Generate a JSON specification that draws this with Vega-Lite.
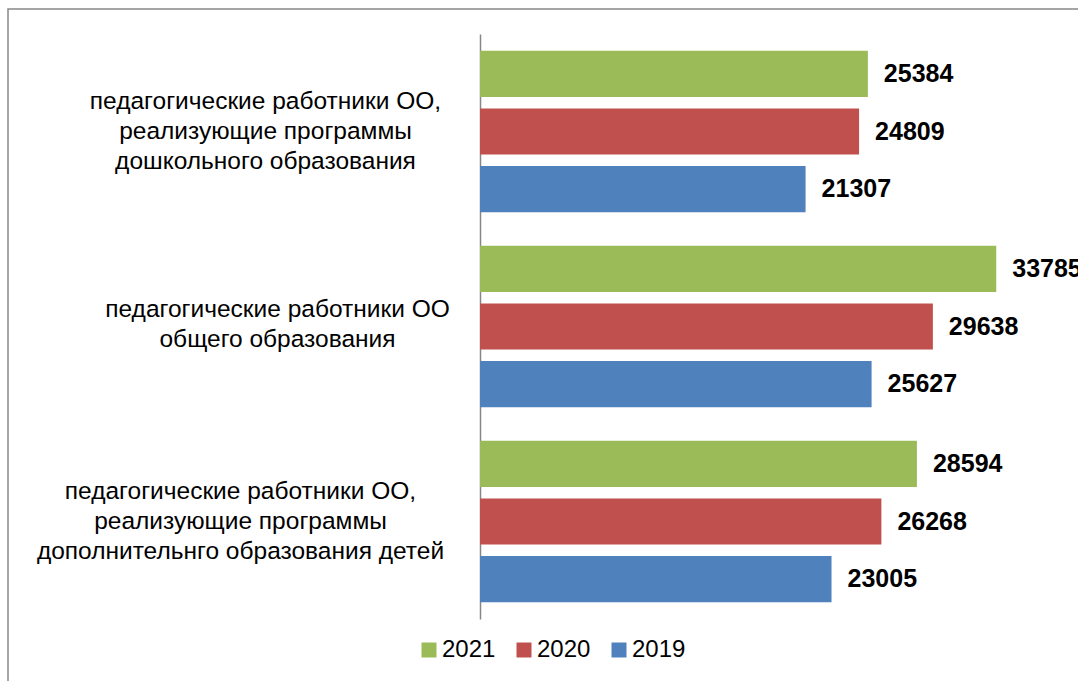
{
  "$schema": "https://vega.github.io/schema/vega-lite/v6.json",
  "width": 1100,
  "height": 700,
  "autosize": {"type": "none"},
  "padding": {"left": 8, "top": 9, "right": 0, "bottom": 0},
  "background": "white",
  "config": {"view": {"stroke": "#888888", "strokeWidth": 1.5}, "font": "Liberation Sans"},
  "data": {
    "values": [
      {"cat": "педагогические работники ОО,|реализующие программы|дошкольного образования", "year": "2021", "value": 25384},
      {"cat": "педагогические работники ОО,|реализующие программы|дошкольного образования", "year": "2020", "value": 24809},
      {"cat": "педагогические работники ОО,|реализующие программы|дошкольного образования", "year": "2019", "value": 21307},
      {"cat": "педагогические работники ОО|общего образования", "year": "2021", "value": 33785},
      {"cat": "педагогические работники ОО|общего образования", "year": "2020", "value": 29638},
      {"cat": "педагогические работники ОО|общего образования", "year": "2019", "value": 25627},
      {"cat": "педагогические работники ОО,|реализующие программы|дополнительнго образования детей", "year": "2021", "value": 28594},
      {"cat": "педагогические работники ОО,|реализующие программы|дополнительнго образования детей", "year": "2020", "value": 26268},
      {"cat": "педагогические работники ОО,|реализующие программы|дополнительнго образования детей", "year": "2019", "value": 23005}
    ]
  },
  "encoding": {
    "y": {
      "field": "cat",
      "type": "nominal",
      "sort": null,
      "scale": {"paddingInner": 0, "paddingOuter": 0, "range": [25, 610]},
      "axis": {
        "title": null,
        "ticks": false,
        "offset": -472,
        "domainColor": "#868686",
        "domainWidth": 1.5,
        "labelExpr": "split(datum.label, '|')",
        "labelAlign": "center",
        "labelBaseline": "middle",
        "labelFontSize": 24.5,
        "labelColor": "#000000",
        "labelLineHeight": 30,
        "labelLimit": 0,
        "labelPadding": {
          "condition": [
            {"test": "indexof(datum.value, 'детей') >= 0", "value": 240},
            {"test": "indexof(datum.value, 'общего') >= 0", "value": 203},
            {"test": "indexof(datum.value, 'дошкольного') >= 0", "value": 215}
          ],
          "value": 215
        },
        "labelOffset": {
          "condition": [
            {"test": "indexof(datum.value, 'общего') >= 0", "value": -17}
          ],
          "value": -30
        }
      }
    },
    "yOffset": {
      "field": "year",
      "type": "nominal",
      "sort": ["2021", "2020", "2019"],
      "scale": {"paddingInner": 0.2, "paddingOuter": 0.29}
    },
    "x": {
      "field": "value",
      "type": "quantitative",
      "scale": {"domain": [-30890, 41099], "nice": false, "zero": false},
      "axis": null
    }
  },
  "layer": [
    {
      "mark": {"type": "bar"},
      "encoding": {
        "x2": {"datum": 0},
        "color": {
          "field": "year",
          "type": "nominal",
          "scale": {"domain": ["2021", "2020", "2019"], "range": ["#9BBB59", "#C0504D", "#4F81BD"]},
          "legend": {
            "title": null,
            "orient": "none",
            "direction": "horizontal",
            "legendX": 409,
            "legendY": 629,
            "symbolType": "square",
            "symbolSize": 225,
            "symbolStrokeWidth": 0,
            "symbolOpacity": 1,
            "labelFontSize": 24,
            "labelColor": "#000000",
            "labelOffset": 1,
            "columnPadding": 16
          }
        }
      }
    },
    {
      "mark": {"type": "text", "align": "left", "baseline": "middle", "dx": 16, "fontWeight": "bold", "fontSize": 25, "color": "#000000"},
      "encoding": {"text": {"field": "value", "type": "quantitative", "format": "d"}}
    }
  ]
}
